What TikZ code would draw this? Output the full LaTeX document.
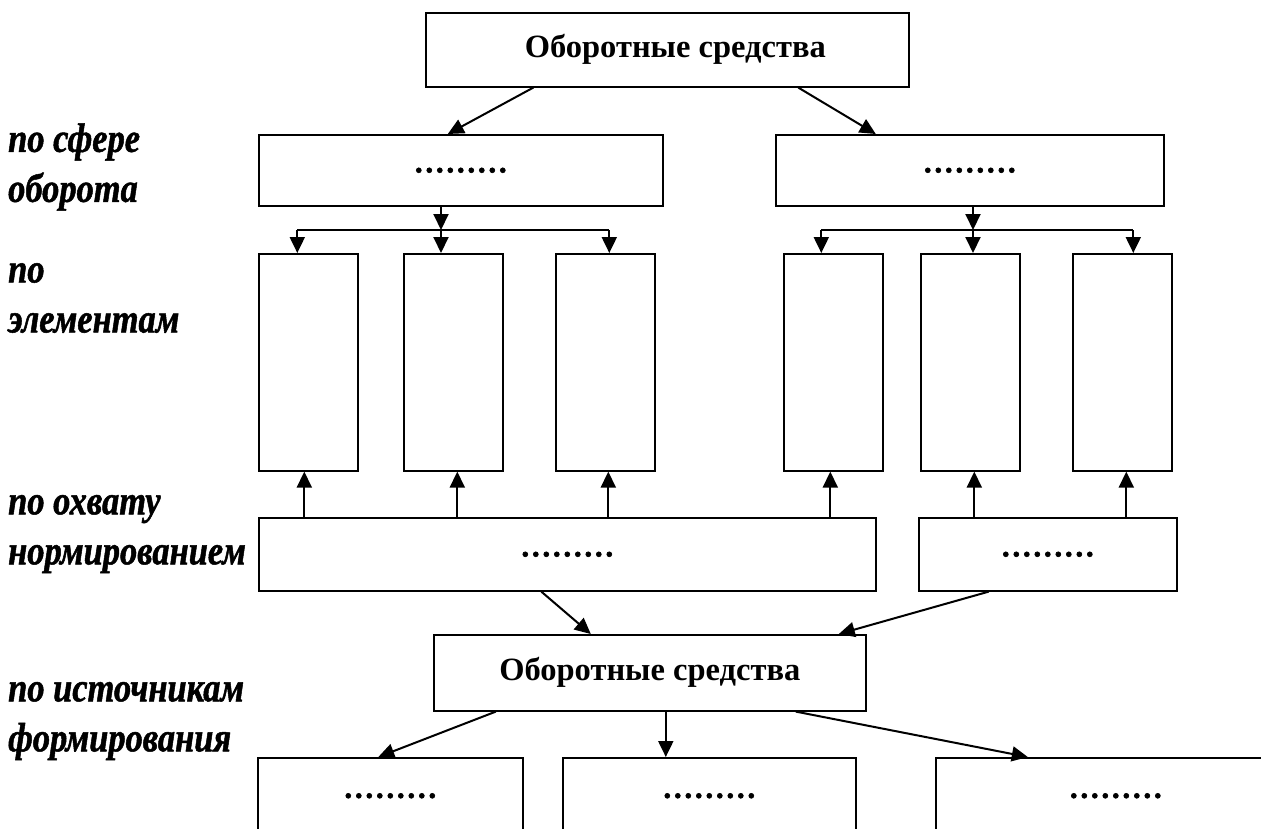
\documentclass[tikz,border=0pt]{standalone}
\usepackage{fontspec}
\setmainfont{Liberation Serif}
\newfontfamily\sidefont[FakeStretch=0.84,FakeBold=1.2]{Liberation Serif Bold Italic}
\newfontfamily\dotfont[FakeBold=1.5]{Liberation Serif}
\usetikzlibrary{arrows.meta,calc}

\tikzset{
  box/.style={draw, line width=1.6pt, inner sep=0pt, anchor=north west,
    font=\fontsize{32.5}{37}\selectfont\bfseries},
  dotbox/.style={box, font=\dotfont\fontsize{42}{46}\selectfont},
  ln/.style={line width=2pt},
  arr/.style={line width=2pt, -{Triangle[length=16pt,width=15pt]}},
  side/.style={anchor=west, align=left, inner sep=0pt,
    font=\sidefont\fontsize{41}{50}\selectfont}
}

\begin{document}
\begin{tikzpicture}[x=1pt,y=-1pt]
\useasboundingbox (0,0) rectangle (1261,828);
\clip (0,0) rectangle (1261,828);

% levels on the left
\node[side] (s1) at (8,167) {по сфере\\оборота};
\node[side] (s2) at (8,298) {по\\элементам};
\node[side] (s3) at (8,534) {по охвату\\нормированием};
\node[side] (s4) at (8,721) {по источникам\\формирования};

% top
\node[box, minimum width=483pt, minimum height=74pt] (top) at (425,12) {\hspace*{16pt}Оборотные средства};

\node[dotbox, minimum width=404pt, minimum height=71pt] (sa) at (258,134) {.........};
\node[dotbox, minimum width=388pt, minimum height=71pt] (sb) at (775,134) {.........};

\draw[arr] ([xshift=-134pt]top.south) -- ([xshift=-13pt]sa.north);
\draw[arr] ([xshift=131pt]top.south) -- ([xshift=-94pt]sb.north);

% elements
\node[box, minimum width=99pt, minimum height=217pt] (e1) at (258,253) {};
\node[box, minimum width=99pt, minimum height=217pt] (e2) at (403,253) {};
\node[box, minimum width=99pt, minimum height=217pt] (e3) at (555,253) {};
\node[box, minimum width=99pt, minimum height=217pt] (e4) at (783,253) {};
\node[box, minimum width=99pt, minimum height=217pt] (e5) at (920,253) {};
\node[box, minimum width=99pt, minimum height=217pt] (e6) at (1072,253) {};

\coordinate (fa) at (441,230);
\coordinate (fb) at (973,230);
\draw[arr] (fa |- sa.south) -- (fa);
\draw[ln] ([xshift=-11pt]e1.north |- fa) -- ([xshift=4pt]e3.north |- fa);
\draw[arr] ([xshift=-11pt]e1.north |- fa) -- ([xshift=-11pt]e1.north);
\draw[arr] (fa) -- (fa |- e2.north);
\draw[arr] ([xshift=4pt]e3.north |- fa) -- ([xshift=4pt]e3.north);

\draw[arr] (fb |- sb.south) -- (fb);
\draw[ln] ([xshift=-12pt]e4.north |- fb) -- ([xshift=11pt]e6.north |- fb);
\draw[arr] ([xshift=-12pt]e4.north |- fb) -- ([xshift=-12pt]e4.north);
\draw[arr] (fb) -- (fb |- e5.north);
\draw[arr] ([xshift=11pt]e6.north |- fb) -- ([xshift=11pt]e6.north);

% norms
\node[dotbox, minimum width=617pt, minimum height=73pt] (na) at (258,517) {.........};
\node[dotbox, minimum width=258pt, minimum height=73pt] (nb) at (918,517) {.........};

\draw[arr] ([xshift=-4pt]e1.south |- na.north) -- ([xshift=-4pt]e1.south);
\draw[arr] ([xshift=4pt]e2.south |- na.north) -- ([xshift=4pt]e2.south);
\draw[arr] ([xshift=3pt]e3.south |- na.north) -- ([xshift=3pt]e3.south);
\draw[arr] ([xshift=-3pt]e4.south |- na.north) -- ([xshift=-3pt]e4.south);
\draw[arr] ([xshift=4pt]e5.south |- nb.north) -- ([xshift=4pt]e5.south);
\draw[arr] ([xshift=4pt]e6.south |- nb.north) -- ([xshift=4pt]e6.south);

% bottom
\node[box, minimum width=432pt, minimum height=76pt] (bot) at (433,634) {Оборотные средства};

\draw[arr] ([xshift=-26pt]na.south) -- ([xshift=-59pt]bot.north);
\draw[arr] ([xshift=-59pt]nb.south) -- ([xshift=189pt]bot.north);

\node[dotbox, minimum width=265pt, minimum height=76pt] (fa1) at (257,757) {.........};
\node[dotbox, minimum width=293pt, minimum height=76pt] (fa2) at (562,757) {.........};
\node[dotbox, minimum width=360pt, minimum height=76pt] (fa3) at (935,757) {.........};

\draw[arr] ([xshift=-154pt]bot.south) -- ([xshift=-12pt]fa1.north);
\draw[arr] ([xshift=16pt]bot.south) -- ([xshift=16pt]bot.south |- fa2.north);
\draw[arr] ([xshift=146pt]bot.south) -- ([xshift=-88pt]fa3.north);
\end{tikzpicture}
\end{document}
